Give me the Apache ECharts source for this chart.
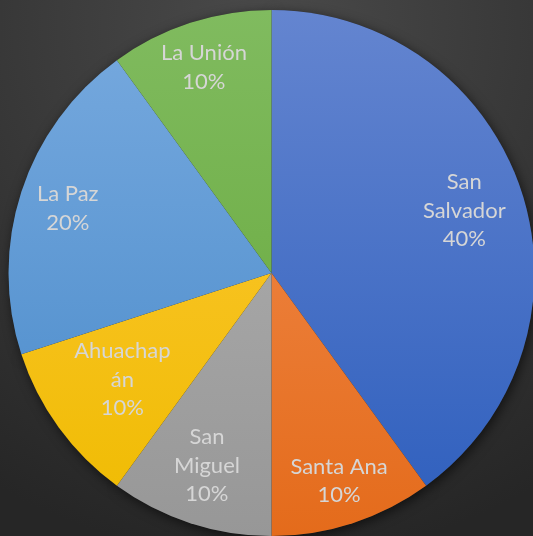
<!DOCTYPE html>
<html>
<head>
<meta charset="utf-8">
<style>
  html, body { margin: 0; padding: 0; background: #3a3a3a; }
  #main { width: 533px; height: 536px; }
</style>
<script src="https://cdn.jsdelivr.net/npm/echarts@6/dist/echarts.min.js"></script>
</head>
<body>
<div id="main"></div>
<script>
// departamentos y porcentajes
const names = ['San Salvador', 'Santa Ana', 'San Miguel', 'Ahuachapán', 'La Paz', 'La Unión']
const values = [40, 10, 10, 10, 20, 10]
// texto tal como se corta en la etiqueta
const labelText = ['San\nSalvador', 'Santa Ana', 'San\nMiguel', 'Ahuachap\nán', 'La Paz', 'La Unión']

const topColors = ['#6485d0', '#f39055', '#b4b4b4', '#ffc93c', '#78aadf', '#80bb5f']
const bottomColors = ['#2d5ebd', '#e46b1b', '#979797', '#efbb00', '#4789c9', '#64a637']
// ajuste fino de etiquetas (estilo Excel "mejor ajuste")
const labelNudge = [[-6, 2], [3, 9], [0, -6], [20, -16], [-5, 0], [-3, -7]]

const R = 263
const cx = 271.5
const cy = 273

const grad = (top, bottom) => new echarts.graphic.LinearGradient(0, cy - R, 0, cy + R, [
	{ offset: 0, color: top },
	{ offset: 1, color: bottom }
], true)

let data = []
let plain = []
let labelled = []
for (let i = 0; i < names.length; i++) {
	data.push({
		name: names[i],
		value: values[i],
		itemStyle: { color: grad(topColors[i], bottomColors[i]) }
	})
	plain.push({ name: names[i], value: values[i] })
	labelled.push({ name: names[i], value: values[i], label: { offset: labelNudge[i] } })
}

const chart = echarts.init(document.getElementById('main'))
chart.setOption({
	backgroundColor: new echarts.graphic.RadialGradient(0.5, 0.05, 1.0, [
		{ offset: 0, color: '#4a4a4a' },
		{ offset: 1, color: '#262626' }
	]),
	animation: false,
	series: [
		{
			// sombra
			type: 'pie',
			silent: true,
			center: [cx, cy],
			radius: [0, R],
			z: 1,
			label: { show: false },
			labelLine: { show: false },
			itemStyle: {
				color: '#2a2a2a',
				shadowBlur: 12,
				shadowColor: 'rgba(0,0,0,0.6)',
				shadowOffsetX: 2,
				shadowOffsetY: 3
			},
			data: plain
		},
		{
			type: 'pie',
			center: [cx, cy],
			radius: [0, R],
			z: 2,
			startAngle: 90,
			clockwise: true,
			label: { show: false },
			labelLine: { show: false },
			itemStyle: { borderWidth: 0 },
			data
		},
		{
			// solo etiquetas
			type: 'pie',
			silent: true,
			center: [cx, cy],
			radius: [0, 412],
			z: 3,
			startAngle: 90,
			itemStyle: { color: 'rgba(0,0,0,0)' },
			labelLine: { show: false },
			label: {
				show: true,
				position: 'inside',
				color: '#d6d6d6',
				fontFamily: 'Lato',
				fontSize: 22,
				lineHeight: 28.5,
				align: 'center',
				formatter: p => labelText[p.dataIndex] + '\n' + p.value + '%'
			},
			data: labelled
		}
	]
})
</script>
</body>
</html>
